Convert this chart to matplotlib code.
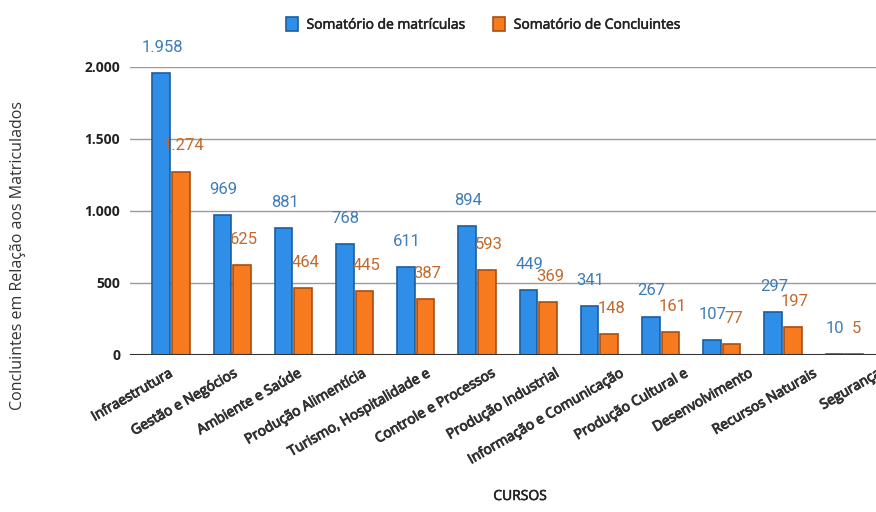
import matplotlib
matplotlib.use("Agg")
import matplotlib.pyplot as plt
import matplotlib.transforms as mtransforms
import matplotlib.patheffects as pe
import numpy as np
from matplotlib.ticker import FuncFormatter

plt.rcParams["font.family"] = ["Open Sans", "DejaVu Sans"]

cursos = ["Infraestrutura", "Gestão e Negócios", "Ambiente e Saúde", "Produção Alimentícia",
          "Turismo, Hospitalidade e", "Controle e Processos", "Produção Industrial",
          "Informação e Comunicação", "Produção Cultural e", "Desenvolvimento",
          "Recursos Naturais", "Segurança"]
matriculas = [1958, 969, 881, 768, 611, 894, 449, 341, 267, 107, 297, 10]
concluintes = [1274, 625, 464, 445, 387, 593, 369, 148, 161, 77, 197, 5]
labels_mat = ["1.958", "969", "881", "768", "611", "894", "449", "341", "267", "107", "297", "10"]
labels_conc = ["1.274", "625", "464", "445", "387", "593", "369", "148", "161", "77", "197", "5"]

blue = "#2F8FE8"
blue_edge = "#1B5EA0"
orange = "#F77B1E"
orange_edge = "#A94E10"

fig = plt.figure(figsize=(8.76, 5.12), dpi=100)
step = 61.2
x0 = -0.67
x1 = (876 - 130) / step + x0
ax = fig.add_axes([130/876, 1-355/512, (876-130)/876, (355-67)/512])

x = np.arange(len(cursos))
w = 0.29
ax.bar(x - w/2 - 0.015, matriculas, w, color=blue, edgecolor=blue_edge, linewidth=1.2,
       label="Somatório de matrículas", zorder=3)
ax.bar(x + w/2 + 0.015, concluintes, w, color=orange, edgecolor=orange_edge, linewidth=1.2,
       label="Somatório de Concluintes", zorder=3)

for xi, v, t in zip(x, matriculas, labels_mat):
    ax.annotate(t, (xi - w/2, v), xytext=(0, 13), textcoords="offset points",
                ha="center", va="bottom", fontsize=12, color="#3F7DB8",
                family="Roboto", clip_on=False, zorder=4)
for xi, v, t in zip(x, concluintes, labels_conc):
    ax.annotate(t, (xi + w/2 + 0.05, v), xytext=(0, 13), textcoords="offset points",
                ha="center", va="bottom", fontsize=12, color="#C2692E",
                family="Roboto", clip_on=False, zorder=4)

ax.set_xlim(x0, x1)
ax.set_ylim(0, 2000)
ax.set_yticks([0, 500, 1000, 1500, 2000])
ax.yaxis.set_major_formatter(FuncFormatter(lambda v, p: f"{int(v):,}".replace(",", ".")))
ax.grid(axis="y", color="#9a9a9a", linewidth=1, zorder=0)
ax.axhline(0, color="#333333", linewidth=1.5, zorder=4)
for s in ax.spines.values():
    s.set_visible(False)
ax.tick_params(axis="y", length=0, pad=7, labelsize=10, labelcolor="#222222")
for lbl in ax.get_yticklabels():
    lbl.set_fontweight("bold")
ax.set_xticks(x)
ax.set_xticklabels(cursos, rotation=30, ha="right", rotation_mode="anchor",
                   fontsize=10, color="#333333")
ax.tick_params(axis="x", length=0, pad=8)
bold_fx = [pe.withStroke(linewidth=0.7, foreground="#333333")]
for i, lbl in enumerate(ax.get_xticklabels()):
    off = mtransforms.ScaledTranslation((-3 + 3.2 * i) / 100, 0, fig.dpi_scale_trans)
    lbl.set_transform(lbl.get_transform() + off)
    lbl.set_path_effects(bold_fx)

ax.set_xlabel("CURSOS", fontsize=10, color="#222222")
ax.xaxis.set_label_coords((520-130)/(876-130), -(489-355)/288)
ax.xaxis.label.set_path_effects([pe.withStroke(linewidth=0.4, foreground="#222222")])
fig.text(18/876, 1-255/512, "Concluintes em Relação aos Matriculados", rotation=90,
         ha="center", va="center", fontsize=11.5, color="#333333")

leg = fig.legend(loc="center", bbox_to_anchor=(483/876, 1-25/512), ncol=2, frameon=False,
                 fontsize=10, handlelength=0.9, handleheight=1.1, columnspacing=2.0,
                 handletextpad=0.6)
for t in leg.get_texts():
    t.set_color("#222222")
    t.set_path_effects([pe.withStroke(linewidth=0.4, foreground="#222222")])

fig.savefig("out.png", dpi=100)
